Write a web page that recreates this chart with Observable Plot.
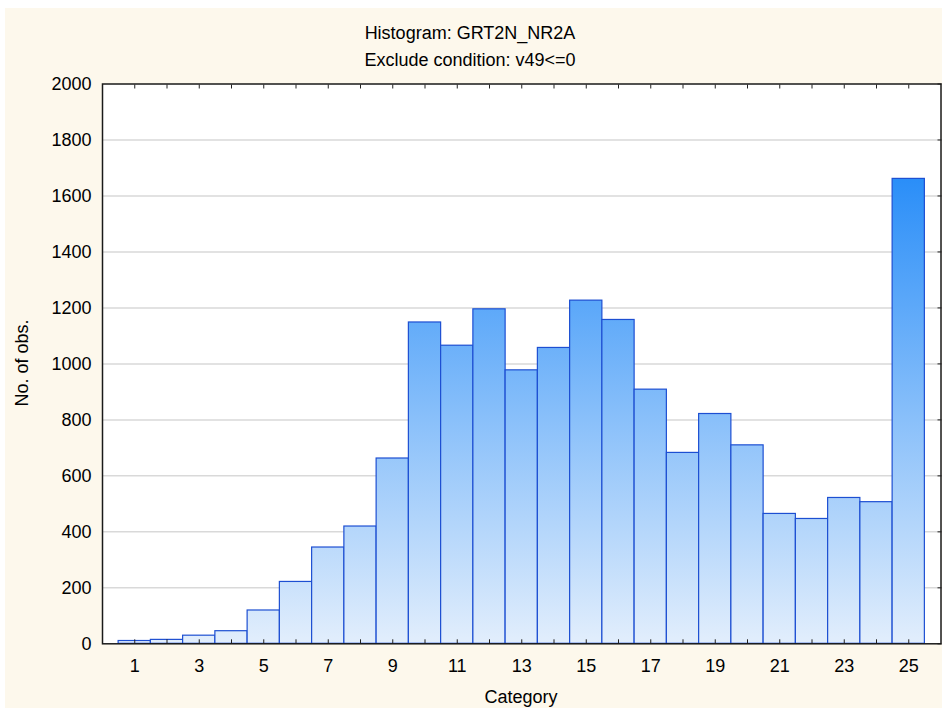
<!DOCTYPE html>
<html>
<head>
<meta charset="utf-8">
<script src="https://cdn.jsdelivr.net/npm/d3@7"></script>
<script src="https://cdn.jsdelivr.net/npm/@observablehq/plot@0.6"></script>
<style>
  html, body { margin: 0; padding: 0; background: #ffffff; }
  #page { position: relative; width: 942px; height: 710px; background: #ffffff; overflow: hidden;
          font-family: "Liberation Sans", Arial, sans-serif; color: #000; }
  #panel { position: absolute; left: 5px; top: 8px; width: 937px; height: 700px; background: #fdf8ec; }
  .title { position: absolute; left: 0; width: 940px; text-align: center; font-size: 18px; line-height: 20px; }
  #chart { position: absolute; left: 0; top: 72px; }
  #xlabel { position: absolute; left: 421px; width: 200px; top: 687px; text-align: center; font-size: 18px; line-height: 20px; }
  #ylabel { position: absolute; left: 22px; top: 363px; font-size: 18px; line-height: 20px; white-space: nowrap;
            transform: translate(-50%, -50%) rotate(-90deg); }
</style>
</head>
<body>
<div id="page">
  <div id="panel"></div>
  <div class="title" style="top:23px">Histogram: GRT2N_NR2A</div>
  <div class="title" style="top:50px">Exclude condition: v49&lt;=0</div>
  <div id="chart"></div>
  <div id="xlabel">Category</div>
  <div id="ylabel">No. of obs.</div>
</div>
<script>
// ---- data ----
const categories = [1, 2, 3, 4, 5, 6, 7, 8, 9, 10, 11, 12, 13, 14, 15, 16, 17, 18, 19, 20, 21, 22, 23, 24, 25];
const counts = [10, 14, 29, 45, 119, 221, 344, 419, 662, 1148, 1065, 1195, 977, 1057, 1226, 1157, 908, 682, 821, 709, 464, 446, 521, 506, 1661];
const xTickLabels = [1, 3, 5, 7, 9, 11, 13, 15, 17, 19, 21, 23, 25];
const yTicks = [0, 200, 400, 600, 800, 1000, 1200, 1400, 1600, 1800, 2000];

const data = categories.map((c, i) => ({category: c, count: counts[i]}));
const maxCount = d3.max(counts);

const chart = Plot.plot({
  width: 942,
  height: 638,
  marginLeft: 102,
  marginRight: 1.5,
  marginTop: 11.5,
  marginBottom: 66.7,
  style: {background: "transparent", fontFamily: "'Liberation Sans', Arial, sans-serif", fontSize: "18px", color: "#000"},
  x: {type: "linear", domain: [0, 26], axis: null},
  y: {type: "linear", domain: [0, 2000], axis: null},
  marks: [
    Plot.frame({fill: "#ffffff", stroke: "none"}),
    Plot.ruleY(yTicks.filter(v => v > 0 && v < 2000), {stroke: "#d9d9d9", strokeWidth: 1.5}),
    Plot.rectY(data, {
      x1: d => d.category - 0.5,
      x2: d => d.category + 0.5,
      y1: 0,
      y2: "count",
      fill: "url(#barGrad)",
      stroke: "#1d4fd2",
      strokeWidth: 1.2
    }),
    // inward ticks
    Plot.axisX({anchor: "bottom", ticks: categories, tickSize: -4, tickFormat: () => "", stroke: "#222", label: null}),
    Plot.axisX({anchor: "top", ticks: categories, tickSize: -4, tickFormat: () => "", stroke: "#222", label: null}),
    Plot.axisY({anchor: "right", ticks: yTicks, tickSize: -4, tickFormat: () => "", stroke: "#222", label: null}),
    // labels
    Plot.axisX({anchor: "bottom", ticks: xTickLabels, tickSize: 0, tickPadding: 15, tickFormat: d => String(d), fill: "#000", label: null}),
    Plot.axisY({anchor: "left", ticks: yTicks, tickSize: 0, tickPadding: 11, tickFormat: d => String(d), fill: "#000", label: null}),
    Plot.frame({stroke: "#1a1a1a", strokeWidth: 1.5})
  ]
});

// gradient tied to the y scale
const yScale = chart.scale("y");
const svgNS = "http://www.w3.org/2000/svg";
const svgEl = chart.tagName.toLowerCase() === "svg" ? chart : chart.querySelector("svg");
const defs = document.createElementNS(svgNS, "defs");
const grad = document.createElementNS(svgNS, "linearGradient");
grad.setAttribute("id", "barGrad");
grad.setAttribute("gradientUnits", "userSpaceOnUse");
grad.setAttribute("x1", "0"); grad.setAttribute("x2", "0");
grad.setAttribute("y1", String(yScale.apply(0)));
grad.setAttribute("y2", String(yScale.apply(maxCount)));
[["0", "#e2eefc"], ["1", "#2a8ef8"]].forEach(([o, c]) => {
  const s = document.createElementNS(svgNS, "stop");
  s.setAttribute("offset", o); s.setAttribute("stop-color", c);
  grad.appendChild(s);
});
defs.appendChild(grad);
svgEl.insertBefore(defs, svgEl.firstChild);

document.getElementById("chart").appendChild(chart);
</script>
</body>
</html>
